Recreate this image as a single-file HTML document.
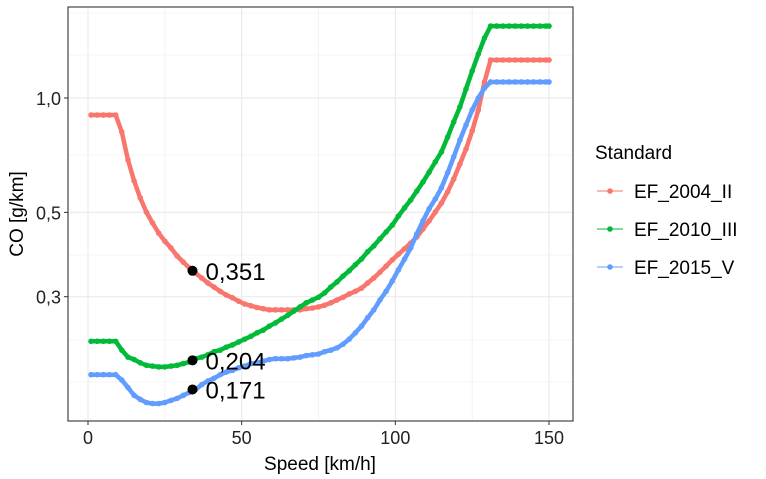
<!DOCTYPE html>
<html><head><meta charset="utf-8"><style>
body{margin:0;background:#fff;}
svg{display:block;font-family:"Liberation Sans",Arial,sans-serif;}
</style></head><body>
<svg id="chart" width="766" height="479">
<rect x="68" y="7" width="505" height="414" fill="#fff"/>
<g id="grid"></g>
<g id="series"></g>
<g id="labels"></g>
<rect x="68" y="7" width="505" height="414" fill="none" stroke="#333" stroke-width="1.1"/>
<g id="axes"></g>
<text x="320" y="470" font-size="19" text-anchor="middle" fill="#000">Speed [km/h]</text>
<text transform="translate(23,214) rotate(-90)" font-size="19" text-anchor="middle" fill="#000">CO [g/km]</text>
<g id="legend">
<text x="595" y="159" font-size="19" fill="#000">Standard</text>
</g>
</svg>
<script>
const speeds = [];
for (let s = 1; s <= 149; s += 2) speeds.push(s);
speeds.push(150);
const seriesNames = ["EF_2004_II", "EF_2010_III", "EF_2015_V"];
const ef2004 = [0.902,0.902,0.902,0.902,0.902,
0.814,0.687,0.605,0.546,0.501,0.469,0.441,0.420,0.403,0.384,
0.370,0.357,0.346,0.336,0.326,0.318,0.310,0.303,0.298,0.292,
0.287,0.284,0.281,0.279,0.277,0.277,0.277,0.277,0.277,0.277,
0.279,0.280,0.282,0.285,0.289,0.294,0.299,0.305,0.310,0.316,
0.326,0.336,0.348,0.361,0.375,0.388,0.401,0.415,0.431,0.452,
0.475,0.501,0.529,0.566,0.612,0.670,0.734,0.819,0.930,1.102,
1.259,1.259,1.259,1.259,1.259,1.259,1.259,1.259,1.259,1.259,1.259];
const ef2010 = [0.229,0.229,0.229,0.229,0.229,
0.217,0.208,0.205,0.201,0.198,0.197,0.196,0.196,0.197,0.198,
0.200,0.202,0.206,0.208,0.211,0.215,0.217,0.221,0.224,0.228,
0.232,0.236,0.241,0.245,0.251,0.256,0.262,0.268,0.275,0.282,
0.289,0.294,0.299,0.307,0.318,0.328,0.340,0.351,0.364,0.377,
0.394,0.408,0.426,0.444,0.463,0.489,0.514,0.539,0.569,0.601,
0.638,0.679,0.721,0.789,0.865,0.947,1.056,1.178,1.305,1.438,
1.546,1.546,1.546,1.546,1.546,1.546,1.546,1.546,1.546,1.546,1.546];
const ef2015 = [0.187,0.187,0.187,0.187,0.187,
0.181,0.173,0.165,0.161,0.158,0.157,0.157,0.158,0.160,0.162,
0.165,0.168,0.171,0.176,0.180,0.183,0.187,0.190,0.192,0.195,
0.197,0.200,0.201,0.203,0.205,0.206,0.206,0.206,0.207,0.208,
0.210,0.211,0.212,0.215,0.217,0.220,0.225,0.232,0.241,0.251,
0.264,0.277,0.294,0.310,0.330,0.353,0.377,0.403,0.439,0.475,
0.511,0.542,0.580,0.635,0.700,0.775,0.849,0.930,1.000,1.062,
1.102,1.102,1.102,1.102,1.102,1.102,1.102,1.102,1.102,1.102,1.102];
const annotSpeed = [34, 34, 34];
const annotValues = [0.351, 0.204, 0.171];
const annotText = ["0,351", "0,204", "0,171"];
const xTicks = [0, 50, 100, 150];
const xMinor = [25, 75, 125];
const yTicks = [0.3, 0.5, 1.0];
const yTickLabels = ["0,3", "0,5", "1,0"];
const colors = ["#F8766D", "#00BA38", "#619CFF"];

const NS = "http://www.w3.org/2000/svg";
const X = s => 88 + (s - 0) * (549 - 88) / 150;
const Y = v => 98 - 380 * Math.log10(v);
function mk(tag, attrs, parent) {
  const e = document.createElementNS(NS, tag);
  for (const k in attrs) e.setAttribute(k, attrs[k]);
  parent.appendChild(e);
  return e;
}
const grid = document.getElementById("grid");
const minorY = [13, 55, 155, 255, 340, 382];
minorY.forEach(py => {
  const l = mk("line", {x1: 68, x2: 573, y1: py, y2: py, stroke: "#ebebeb", "stroke-width": 0.6}, grid);
  
  
});
xMinor.forEach(s => {
  const l = mk("line", {x1: X(s), x2: X(s), y1: 7, y2: 421, stroke: "#ebebeb", "stroke-width": 0.6}, grid);
  
  
});
yTicks.forEach(v => {
  const l = mk("line", {x1: 68, x2: 573, y1: Y(v), y2: Y(v), stroke: "#ebebeb", "stroke-width": 1.2}, grid);
  
  
});
xTicks.forEach(s => {
  const l = mk("line", {x1: X(s), x2: X(s), y1: 7, y2: 421, stroke: "#ebebeb", "stroke-width": 1.2}, grid);
  
  
});

const axes = document.getElementById("axes");
yTicks.forEach((v, i) => {
  const t = mk("line", {x1: 64, x2: 68, y1: Y(v), y2: Y(v), stroke: "#333", "stroke-width": 1}, axes);
  
  
  const tx = mk("text", {x: 61, y: Y(v) + 7, "font-size": 18, "text-anchor": "end", fill: "#222"}, axes);
  tx.textContent = yTickLabels[i];
  
  
});
xTicks.forEach(s => {
  const t = mk("line", {x1: X(s), x2: X(s), y1: 421, y2: 425, stroke: "#333", "stroke-width": 1}, axes);
  
  
  const tx = mk("text", {x: X(s), y: 444, "font-size": 18, "text-anchor": "middle", fill: "#222"}, axes);
  tx.textContent = String(s);
  
  
});

const seriesLayer = document.getElementById("series");
const allSeries = [ef2004, ef2010, ef2015];
allSeries.forEach((vals, si) => {
  const g = mk("g", {}, seriesLayer);
  
  
  const d = vals.map((v, i) => (i ? "L" : "M") + X(speeds[i]).toFixed(1) + " " + Y(v).toFixed(1)).join(" ");
  const p = mk("path", {d: d, fill: "none", stroke: colors[si], "stroke-width": 4.5, "stroke-linejoin": "round", "stroke-linecap": "round"}, g);
  
  
  vals.forEach((v, i) => {
    const c = mk("circle", {cx: X(speeds[i]), cy: Y(v), r: 2.8, fill: colors[si]}, g);
    
    
  });
});

const labels = document.getElementById("labels");
annotValues.forEach((v, i) => {
  const c = mk("circle", {cx: X(annotSpeed[i]), cy: Y(v), r: 5, fill: "#000"}, labels);
  
  
  const t = mk("text", {x: X(annotSpeed[i]) + 13, y: Y(v) + 9, "font-size": 24, fill: "#000"}, labels);
  t.textContent = annotText[i];
  
  
});

const legend = document.getElementById("legend");
seriesNames.forEach((n, i) => {
  const y = 191 + i * 38;
  const g = mk("g", {}, legend);
  
  
  const l = mk("line", {x1: 597, x2: 623, y1: y, y2: y, stroke: colors[i], "stroke-width": 1}, g);
  
  
  const c = mk("circle", {cx: 610, cy: y, r: 2.8, fill: colors[i]}, g);
  
  
  const t = mk("text", {x: 634, y: y + 7, "font-size": 19, fill: "#000"}, g);
  t.textContent = n;
  
  
});
</script>
</body></html>
